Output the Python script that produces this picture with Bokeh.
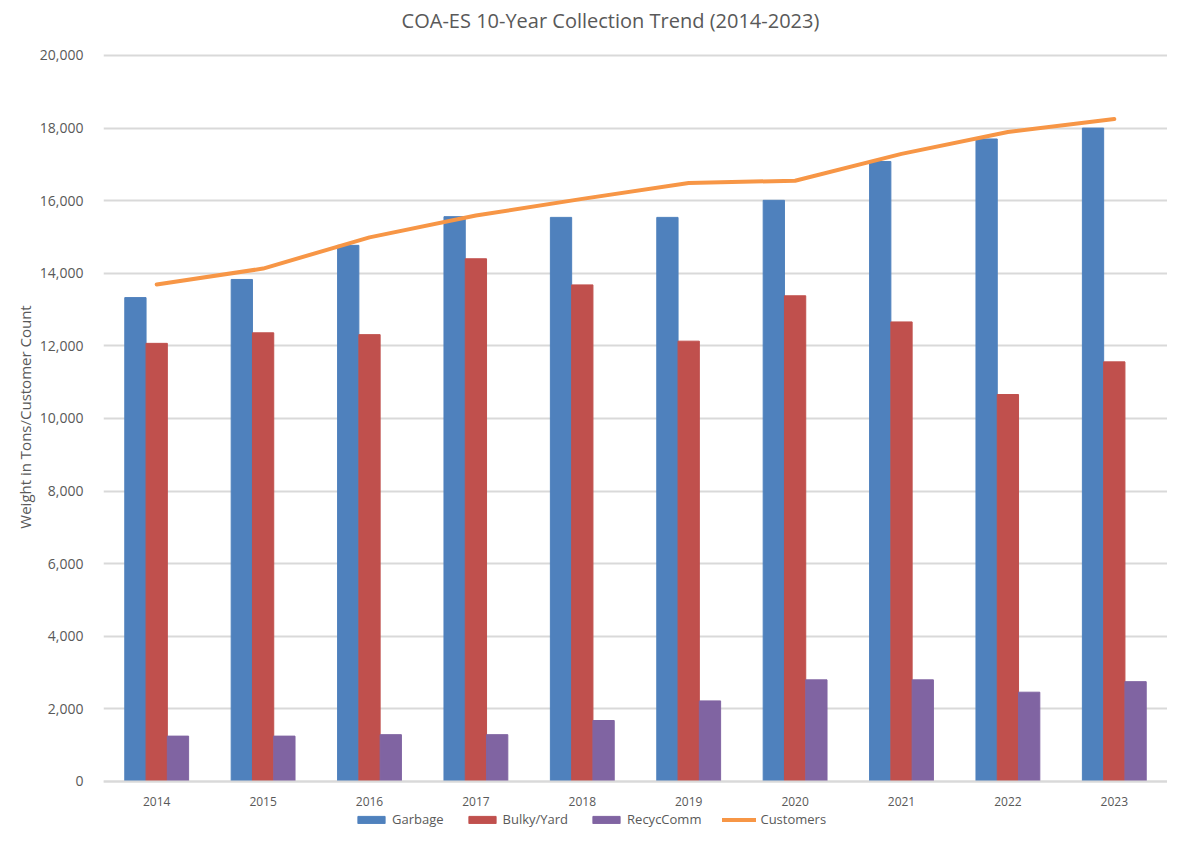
from bokeh.plotting import figure
from bokeh.models import (FactorRange, Range1d, NumeralTickFormatter, Legend, LegendItem,
                          ColumnDataSource, FixedTicker, Label)
from bokeh.transform import dodge
from bokeh.embed import file_html
from bokeh.resources import INLINE

years = ["2014", "2015", "2016", "2017", "2018", "2019", "2020", "2021", "2022", "2023"]
garbage = [13330, 13830, 14770, 15560, 15540, 15540, 16010, 17080, 17700, 18000]
bulky = [12070, 12360, 12310, 14400, 13680, 12130, 13380, 12660, 10660, 11560]
recyc = [1250, 1250, 1290, 1290, 1680, 2220, 2800, 2800, 2460, 2750]
customers = [13690, 14130, 14990, 15590, 16050, 16490, 16550, 17290, 17890, 18250]
y_ticks = [0, 2000, 4000, 6000, 8000, 10000, 12000, 14000, 16000, 18000, 20000]

FONT = "Open Sans"
GRAY = "#595959"

src = ColumnDataSource(dict(year=years, garbage=garbage, bulky=bulky, recyc=recyc, customers=customers))

# The frame spans the whole height so the title (top) and legend (bottom) sit inside it;
# the x axis is pinned at y = 0.
Y_START, Y_END = -1295, 21377
p = figure(x_range=FactorRange(*years, range_padding=0), y_range=Range1d(Y_START, Y_END),
           width=1167, height=828, output_backend="svg", toolbar_location=None,
           min_border_left=103, min_border_right=0, min_border_top=5, min_border_bottom=0)
p.outline_line_color = None

r_g = p.vbar(x=dodge("year", -0.2, range=p.x_range), top="garbage", width=0.2, source=src,
             fill_color="#4F81BD", line_color="#4F81BD")
r_b = p.vbar(x=dodge("year", 0.0, range=p.x_range), top="bulky", width=0.2, source=src,
             fill_color="#C0504D", line_color="#C0504D")
r_r = p.vbar(x=dodge("year", 0.2, range=p.x_range), top="recyc", width=0.2, source=src,
             fill_color="#8064A2", line_color="#8064A2")
r_c = p.line(x="year", y="customers", source=src, line_color="#F79646", line_width=4,
             line_join="round", line_cap="round")

# title
title = Label(x=4.765, y=20964, text="COA-ES 10-Year Collection Trend (2014-2023)",
              text_font=FONT, text_font_size="20px", text_color=GRAY,
              text_align="center", text_baseline="middle")
p.add_layout(title)

# grid
p.xgrid.grid_line_color = None
p.ygrid.ticker = FixedTicker(ticks=y_ticks)
p.ygrid.grid_line_color = "#d9d9d9"
p.ygrid.grid_line_width = 2
p.ygrid.level = "underlay"

# y axis
p.yaxis.ticker = FixedTicker(ticks=y_ticks)
p.yaxis.formatter = NumeralTickFormatter(format="0,0")
p.yaxis.axis_line_color = None
p.yaxis.major_tick_line_color = None
p.yaxis.minor_tick_line_color = None
p.yaxis.major_label_text_font = FONT
p.yaxis.major_label_text_font_size = "14px"
p.yaxis.major_label_text_color = GRAY
p.yaxis.major_label_standoff = 14
p.yaxis.axis_label = "Weight in Tons/Customer Count"
p.yaxis.axis_label_text_font = FONT
p.yaxis.axis_label_text_font_size = "15px"
p.yaxis.axis_label_text_font_style = "normal"
p.yaxis.axis_label_text_color = GRAY
p.yaxis.axis_label_standoff = 2

# x axis pinned at zero
p.xaxis.fixed_location = 0
p.xaxis.axis_line_color = "#d9d9d9"
p.xaxis.axis_line_width = 2
p.xaxis.major_tick_line_color = None
p.xaxis.minor_tick_line_color = None
p.xaxis.major_label_text_font = FONT
p.xaxis.major_label_text_font_size = "12px"
p.xaxis.major_label_text_color = GRAY
p.xaxis.major_label_standoff = 10

legend = Legend(items=[LegendItem(label="Garbage", renderers=[r_g]),
                       LegendItem(label="Bulky/Yard", renderers=[r_b]),
                       LegendItem(label="RecycComm", renderers=[r_r]),
                       LegendItem(label="Customers", renderers=[r_c])],
                orientation="horizontal", location=(251, 0),
                padding=0, margin=0, spacing=21, glyph_width=34, glyph_height=9,
                label_standoff=4, label_text_font=FONT, label_text_font_size="13px",
                label_height=14, label_text_color=GRAY, border_line_color=None,
                background_fill_alpha=0)
p.add_layout(legend, "center")

open("out.html", "w").write(file_html(p, INLINE))
